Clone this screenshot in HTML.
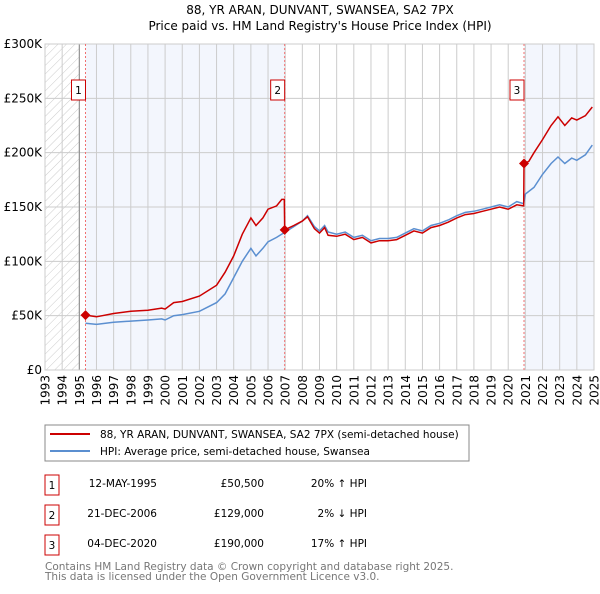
<!DOCTYPE html>
<html><head><meta charset="utf-8"><style>
body{margin:0;background:#fff;font-family:"DejaVu Sans","Liberation Sans",sans-serif;}
svg text{font-family:"DejaVu Sans","Liberation Sans",sans-serif;}
</style></head><body>
<svg id="c" width="600" height="590" xmlns="http://www.w3.org/2000/svg">
<defs><pattern id="h" width="6" height="6" patternUnits="userSpaceOnUse" patternTransform="rotate(45)"><line x1="0" y1="0" x2="0" y2="6" stroke="#ccc" stroke-width="1"/></pattern></defs>
<text x="320" y="14" text-anchor="middle" font-size="12">88, YR ARAN, DUNVANT, SWANSEA, SA2 7PX</text>
<text x="320" y="30" text-anchor="middle" font-size="12">Price paid vs. HM Land Registry's House Price Index (HPI)</text>
<g id="plot"></g>
<rect x="45" y="425" width="424" height="36" fill="#fff" stroke="#888"/>
<line x1="50" y1="434" x2="90" y2="434" stroke="#cc0000" stroke-width="2"/>
<text x="100" y="438" font-size="10.5">88, YR ARAN, DUNVANT, SWANSEA, SA2 7PX (semi-detached house)</text>
<line x1="50" y1="451" x2="90" y2="451" stroke="#5b8fd0" stroke-width="2"/>
<text x="100" y="455" font-size="10.5">HPI: Average price, semi-detached house, Swansea</text>
<g font-size="10.5">
<rect x="45" y="475" width="14" height="20" fill="#fff" stroke="#cc0000"/><text x="52" y="489" text-anchor="middle">1</text>
<text x="157" y="487" text-anchor="end">12-MAY-1995</text><text x="264" y="487" text-anchor="end">£50,500</text><text x="367" y="487" text-anchor="end">20% ↑ HPI</text>
<rect x="45" y="505" width="14" height="20" fill="#fff" stroke="#cc0000"/><text x="52" y="519" text-anchor="middle">2</text>
<text x="157" y="517" text-anchor="end">21-DEC-2006</text><text x="264" y="517" text-anchor="end">£129,000</text><text x="367" y="517" text-anchor="end">2% ↓ HPI</text>
<rect x="45" y="535" width="14" height="20" fill="#fff" stroke="#cc0000"/><text x="52" y="549" text-anchor="middle">3</text>
<text x="157" y="547" text-anchor="end">04-DEC-2020</text><text x="264" y="547" text-anchor="end">£190,000</text><text x="367" y="547" text-anchor="end">17% ↑ HPI</text>
</g>
<text x="45" y="570" font-size="10.5" fill="#777">Contains HM Land Registry data © Crown copyright and database right 2025.</text>
<text x="45" y="580" font-size="10.5" fill="#777">This data is licensed under the Open Government Licence v3.0.</text>
</svg>
<script>
const yTicks=[0,50000,100000,150000,200000,250000,300000];
const yLabels=["£0","£50K","£100K","£150K","£200K","£250K","£300K"];
const years=[1993,1994,1995,1996,1997,1998,1999,2000,2001,2002,2003,2004,2005,2006,2007,2008,2009,2010,2011,2012,2013,2014,2015,2016,2017,2018,2019,2020,2021,2022,2023,2024,2025];
const saleDates=[1995.36,2006.97,2020.92];
const salePrices=[50500,129000,190000];
const hpiT=[1995.36,1996,1997,1998,1999,1999.8,2000,2000.5,2001,2002,2003,2003.5,2004,2004.5,2005,2005.3,2005.7,2006,2006.5,2007,2007.5,2008,2008.3,2008.7,2009,2009.3,2009.5,2010,2010.5,2011,2011.5,2012,2012.5,2013,2013.5,2014,2014.5,2015,2015.5,2016,2016.5,2017,2017.5,2018,2018.5,2019,2019.5,2020,2020.5,2020.9,2021,2021.5,2022,2022.5,2022.9,2023.3,2023.7,2024,2024.5,2024.9];
const hpiV=[43,42,44,45,46,47,46,50,51,54,62,70,85,100,112,105,112,118,122,127,132,137,142,132,128,133,127,125,127,122,124,119,121,121,122,126,130,128,133,135,138,142,145,146,148,150,152,150,155,153,162,168,180,190,196,190,195,193,198,207];
const redT=[1995.36,1996,1997,1998,1999,1999.8,2000,2000.5,2001,2002,2003,2003.5,2004,2004.5,2005,2005.3,2005.7,2006,2006.5,2006.8,2006.95,2006.97,2007.5,2008,2008.3,2008.7,2009,2009.3,2009.5,2010,2010.5,2011,2011.5,2012,2012.5,2013,2013.5,2014,2014.5,2015,2015.5,2016,2016.5,2017,2017.5,2018,2018.5,2019,2019.5,2020,2020.5,2020.9,2020.92,2021.2,2021.5,2022,2022.5,2022.9,2023.3,2023.7,2024,2024.5,2024.9];
const redV=[50.5,49,52,54,55,57,56,62,63,68,78,90,105,125,140,133,140,148,151,157,157,129,133,137,141,130,126,131,124,123,125,120,122,117,119,119,120,124,128,126,131,133,136,140,143,144,146,148,150,148,152,151,190,192,200,212,225,233,225,232,230,234,242];
const NS="http://www.w3.org/2000/svg";
const X0=45,X1=594,Y0=370,Y1=44;
const xs=t=>X0+(t-1993)/(2025-1993)*(X1-X0);
const ys=v=>Y0-v/300000*(Y0-Y1);
const g=document.getElementById('plot');
function mk(tag,a){const e=document.createElementNS(NS,tag);for(const k in a)e.setAttribute(k,a[k]);g.appendChild(e);return e;}
let e;
e=mk('rect',{x:X0,y:Y1,width:X1-X0,height:Y0-Y1,fill:'#fff'});


e=mk('rect',{x:X0,y:Y1,width:xs(1995)-X0,height:Y0-Y1,fill:'url(#h)'});


e=mk('rect',{x:xs(saleDates[0]),y:Y1,width:xs(saleDates[1])-xs(saleDates[0]),height:Y0-Y1,fill:'#f3f6fd'});


e=mk('rect',{x:xs(saleDates[2]),y:Y1,width:X1-xs(saleDates[2]),height:Y0-Y1,fill:'#f3f6fd'});


years.forEach(y=>{
 e=mk('line',{x1:xs(y),x2:xs(y),y1:Y1,y2:Y0,stroke:'#ccc','stroke-width':1});
 
 
 e=mk('text',{x:0,y:0,'font-size':12,'text-anchor':'end',transform:`translate(${xs(y)+4.5},${Y0+5}) rotate(-90)`});
 e.textContent=y;
 
 
});
yTicks.forEach((v,i)=>{
 e=mk('line',{x1:X0,x2:X1,y1:ys(v),y2:ys(v),stroke:'#ccc','stroke-width':1});
 
 
 e=mk('text',{x:X0-3,y:ys(v)+4,'font-size':12,'text-anchor':'end'});
 e.textContent=yLabels[i];
 
 
});
e=mk('line',{x1:xs(1995),x2:xs(1995),y1:Y1,y2:Y0,stroke:'#888','stroke-width':1});


e=mk('rect',{x:X0,y:Y1,width:X1-X0,height:Y0-Y1,fill:'none',stroke:'#ccc'});


saleDates.forEach((d,i)=>{
 e=mk('line',{x1:xs(d),x2:xs(d),y1:Y1,y2:Y0,stroke:'#f07070','stroke-width':1,'stroke-dasharray':'2,2'});
 
 
});
function path(T,V){return T.map((t,i)=>(i?'L':'M')+xs(t).toFixed(1)+','+ys(V[i]*1000).toFixed(1)).join('');}
e=mk('path',{d:path(hpiT,hpiV),fill:'none',stroke:'#5b8fd0','stroke-width':1.5});


e=mk('path',{d:path(redT,redV),fill:'none',stroke:'#cc0000','stroke-width':1.5});


saleDates.forEach((d,i)=>{
 const cx=xs(d),cy=ys(salePrices[i]);
 e=mk('path',{d:`M${cx},${cy-5}L${cx+5},${cy}L${cx},${cy+5}L${cx-5},${cy}Z`,fill:'#cc0000'});
 
 
 const bx=cx-14;
 e=mk('rect',{x:bx,y:80,width:14,height:20,fill:'#fff',stroke:'#cc0000'});
 
 
 e=mk('text',{x:bx+7,y:94,'font-size':10.5,'text-anchor':'middle'});
 e.textContent=i+1;
 
 
});
</script>
</body></html>
